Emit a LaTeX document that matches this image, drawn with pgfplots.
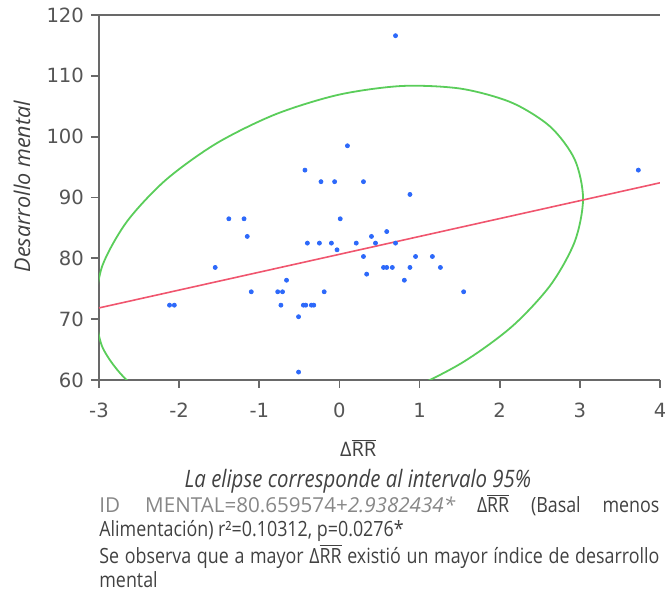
\documentclass[border=0pt]{standalone}
\usepackage{pgfplots}
\pgfplotsset{compat=1.18}
\usepackage{fontspec}
\setmainfont{Open Sans}
\newfontfamily\tickfont{DejaVu Sans}
\newfontfamily\condfont[FakeStretch=0.85]{Open Sans}

\definecolor{ptblue}{RGB}{45,105,250}
\definecolor{linered}{RGB}{240,85,110}
\definecolor{ellgreen}{RGB}{90,205,90}
\definecolor{axgray}{RGB}{105,105,105}
\definecolor{tickgray}{RGB}{85,85,85}
\definecolor{textgray}{RGB}{65,65,65}
\definecolor{idgray}{RGB}{135,135,135}

\newcommand\DRR{Δ\ensuremath{\overline{\hbox{RR}}}}

\begin{document}
\begin{tikzpicture}
\begin{axis}[
  name=ax,
  scale only axis,
  width=280.5pt, height=182.5pt,
  xmin=-3, xmax=4, ymin=60, ymax=120,
  xtick={-3,-2,...,4}, ytick={60,70,...,120},
  axis lines*=left,
  axis line style={draw=axgray, line width=1.2pt},
  tick align=outside,
  major tick length=4pt,
  tick style={draw=axgray, line width=0.9pt},
  ticklabel style={font=\tickfont\fontsize{9.8}{11}\selectfont, text=tickgray},
  x tick label style={yshift=-4pt},
  /pgf/number format/assume math mode=true,
  xlabel={\DRR},
  xlabel style={font=\fontsize{10}{12}\selectfont, text=textgray,
    at={(rel axis cs:0.462,0)}, anchor=base, yshift=-38.5pt},
  ylabel={\itshape Desarrollo mental},
  ylabel style={font=\fontsize{10.8}{13}\selectfont, text=textgray,
    at={([xshift=-38.5pt]rel axis cs:0,0.53)}, anchor=center},
]
% elipse del 95% (cada 15 grados)
\addplot[ellgreen, line width=0.9pt, smooth] coordinates {
  (-3.060,71.80) (-2.956,65.36) (-2.651,59.96) (-2.167,55.99) (-1.535,53.71)
  (-0.799,53.27) (-0.010,54.71) (0.779,57.93) (1.515,62.71) (2.147,68.72)
  (2.631,75.55) (2.936,82.74) (3.040,89.80) (2.936,96.25) (2.631,101.64)
  (2.147,105.61) (1.515,107.89) (0.779,108.33) (-0.010,106.89) (-0.799,103.67)
  (-1.535,98.89) (-2.167,92.88) (-2.651,86.05) (-2.956,78.86) (-3.060,71.80)
};
% recta de regresion
\addplot[linered, line width=0.8pt] coordinates {(-3,71.845) (4,92.413)};
% datos
\addplot[only marks, mark=*, mark size=1pt, ptblue] coordinates {
  (0.10,98.5) (-0.43,94.5) (-0.23,92.6) (-0.06,92.6) (0.30,92.6)
  (0.88,90.5) (-1.38,86.5) (-1.19,86.5) (0.01,86.5) (-1.15,83.6)
  (0.40,83.6) (0.59,84.4) (-0.40,82.5) (-0.25,82.5) (-0.10,82.5)
  (0.21,82.5) (0.45,82.5) (0.70,82.5) (-0.03,81.4) (0.30,80.3)
  (0.95,80.3) (1.16,80.3) (-1.55,78.5) (0.55,78.5) (0.59,78.5)
  (0.66,78.5) (0.88,78.5) (1.26,78.5) (0.34,77.4) (-0.66,76.4)
  (0.81,76.4) (-1.10,74.5) (-0.77,74.5) (-0.71,74.5) (-0.19,74.5)
  (1.55,74.5) (-2.12,72.3) (-2.06,72.3) (-0.73,72.3) (-0.45,72.3)
  (-0.42,72.3) (-0.35,72.3) (-0.32,72.3) (-0.51,70.4) (-0.51,61.3)
  (0.70,116.6) (3.73,94.5)
};
\end{axis}
% linea superior del marco
\draw[axgray, line width=1.2pt] (ax.north west) -- (ax.north east);

\node[font=\condfont\itshape\fontsize{12}{14}\selectfont, text=textgray, anchor=base]
  at ([shift={(129.5pt,-54pt)}]ax.south west) {La elipse corresponde al intervalo 95\%};
\node[font=\condfont\fontsize{10.5}{12}\selectfont, text=textgray, anchor=base west,
  text width=280pt, align=justify, inner sep=0pt]
  at ([shift={(0pt,-66.5pt)}]ax.south west)
  {{\color{idgray}\rmfamily\fontsize{10.3}{12}\selectfont ID MENTAL=80.659574+\textit{2.9382434*}} \DRR{} (Basal menos\linebreak
   Alimentación) r²=0.10312, p=0.0276*\par
   Se observa que a mayor \DRR{} existió un mayor índice de desarrollo\linebreak
   mental};

\pgfresetboundingbox
\path ([shift={(-49.5pt,-105.5pt)}]ax.south west) rectangle ([shift={(2.5pt,7.5pt)}]ax.north east);
\end{tikzpicture}
\end{document}
